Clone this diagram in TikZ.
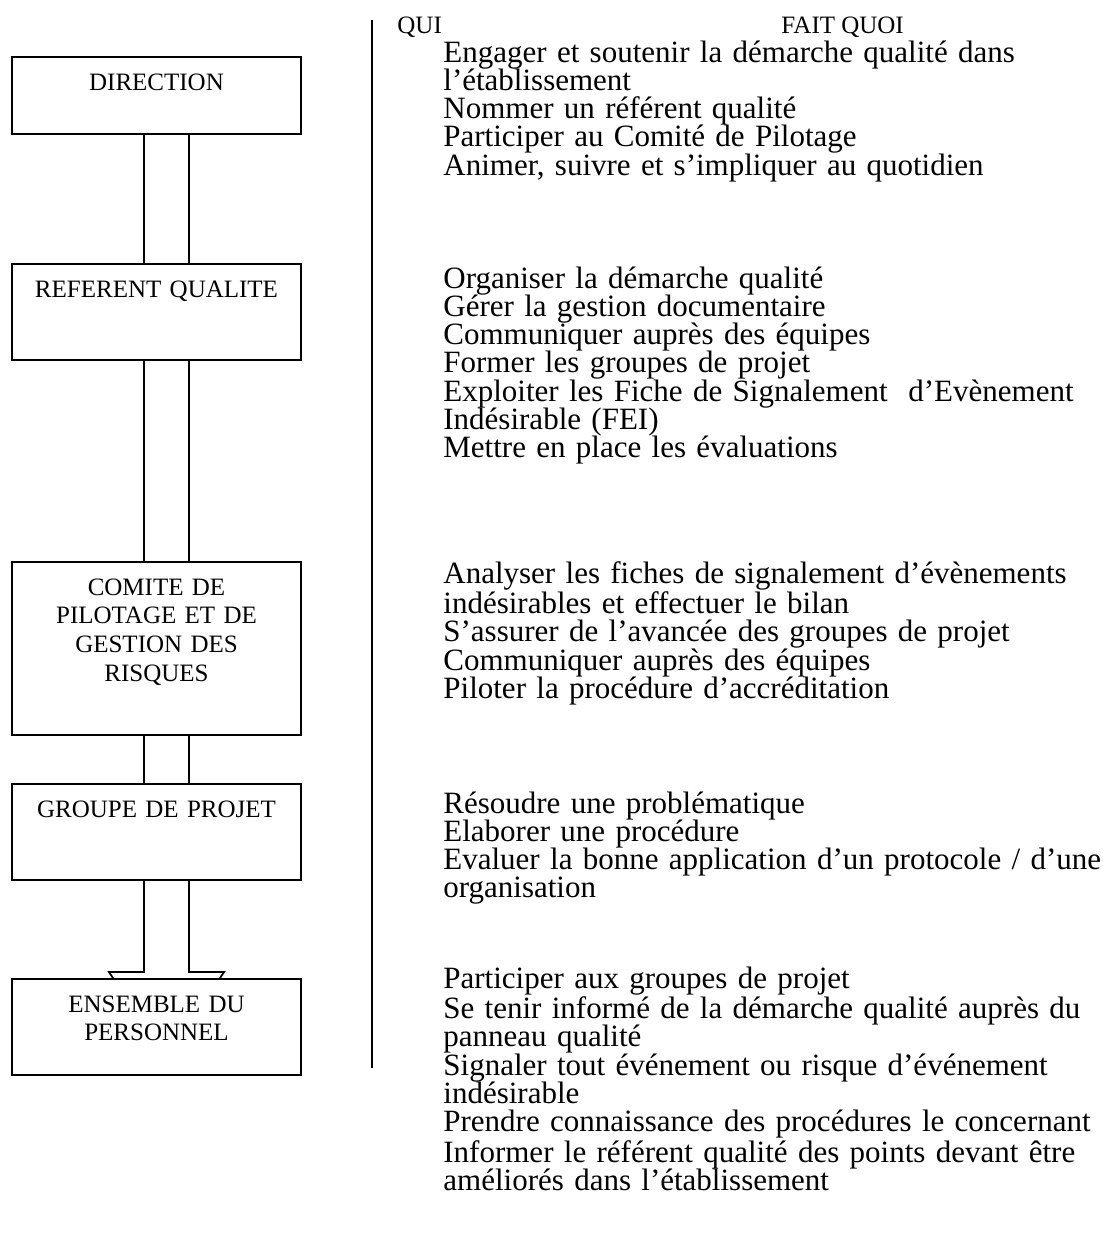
\documentclass[tikz,border=0pt]{standalone}
\usepackage{fontspec}
\setmainfont{Liberation Serif}
\usetikzlibrary{backgrounds}
\setlength{\lineskiplimit}{-100pt}
\tikzstyle{box}=[draw, line width=1pt, fill=white, minimum width=144.5pt, inner sep=0pt]
\tikzstyle{boxlabel}=[anchor=base, yshift=-17pt, inner sep=0pt, text width=140pt, align=center, font=\fontsize{12.5}{14.4}\selectfont]
\tikzstyle{link}=[line width=0.9pt]
\tikzstyle{head}=[anchor=base west, inner sep=0pt, font=\fontsize{12.5}{14}\selectfont]
\tikzstyle{job}=[anchor=base west, inner sep=0pt, text width=400pt, align=left, font=\fontsize{15.5}{14.15}\selectfont]

\begin{document}
\begin{tikzpicture}[x=0.5pt, y=-0.5pt]
  \useasboundingbox (0,0) rectangle (1106,1248);
  % qui
  \node[box, minimum height=38.5pt, label={[boxlabel]north:DIRECTION}] (dir) at (156.5,95.5) {};
  \node[box, minimum height=48pt, label={[boxlabel]north:REFERENT QUALITE}] (ref) at (156.5,312) {};
  \node[box, minimum height=86.5pt, label={[boxlabel]north:COMITE DE\\PILOTAGE ET DE\\GESTION DES\\RISQUES}] (copil) at (156.5,648.5) {};
  \node[box, minimum height=48pt, label={[boxlabel]north:GROUPE DE PROJET}] (group) at (156.5,832) {};
  \node[box, minimum height=48pt, label={[boxlabel]north:ENSEMBLE DU\\PERSONNEL}] (staff) at (156.5,1027) {};
  \coordinate (lx) at (144,0);
  \coordinate (rx) at (189,0);
  \coordinate (hl) at (109,972);
  \coordinate (hr) at (224,972);
  \coordinate (tip) at (166.5,1060);
  \begin{pgfonlayer}{background}
    \foreach \a/\b in {dir/ref, ref/copil, copil/group}
      \draw[link] (\a.south -| lx) -- (\b.north -| lx)
                  (\a.south -| rx) -- (\b.north -| rx);
    \draw[link] (group.south -| lx) -- (hl -| lx) -- (hl) -- (tip)
                -- (hr) -- (hr -| rx) -- (group.south -| rx);
  \end{pgfonlayer}
  % fait quoi
  \draw[line width=1pt] (372,20) -- (372,1068);
  \node[head] (qui) at (397,33) {QUI};
  \node[head] (quoi) at (781,33) {FAIT QUOI};
  \node[job] (dirjob) at (443,62) {Engager et soutenir la démarche qualité dans\\
    l’établissement\\
    Nommer un référent qualité\\
    Participer au Comité de Pilotage\\
    Animer, suivre et s’impliquer au quotidien};
  \node[job] (refjob) at (443,288) {Organiser la démarche qualité\\
    Gérer la gestion documentaire\\
    Communiquer auprès des équipes\\
    Former les groupes de projet\\
    Exploiter les Fiche de Signalement \ d’Evènement\\
    Indésirable (FEI)\\
    Mettre en place les évaluations};
  \node[job] (copiljob) at (443,583) {Analyser les fiches de signalement d’évènements\\
    indésirables et effectuer le bilan\\
    S’assurer de l’avancée des groupes de projet\\
    Communiquer auprès des équipes\\
    Piloter la procédure d’accréditation};
  \node[job] (groupjob) at (443,813) {Résoudre une problématique\\
    Elaborer une procédure\\
    Evaluer la bonne application d’un protocole / d’une\\
    organisation};
  \node[job] (staffjob) at (443,988) {Participer aux groupes de projet\\
    Se tenir informé de la démarche qualité auprès du\\
    panneau qualité\\
    Signaler tout événement ou risque d’événement\\
    indésirable\\
    Prendre connaissance des procédures le concernant\\
    Informer le référent qualité des points devant être\\
    améliorés dans l’établissement};
\end{tikzpicture}
\end{document}
